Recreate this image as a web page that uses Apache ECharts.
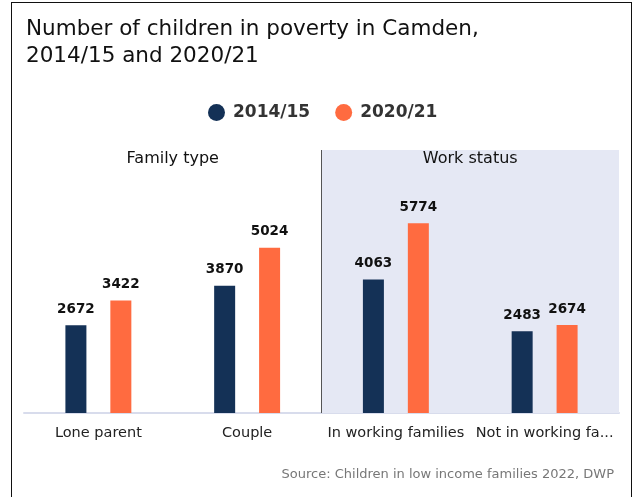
<!DOCTYPE html>
<html><head><meta charset="utf-8">
<script src="https://cdn.jsdelivr.net/npm/echarts@6/dist/echarts.min.js"></script>
<style>html,body{margin:0;padding:0;background:#fff;}#c{width:636px;height:497px;position:relative;}
#frame{position:absolute;left:11px;top:2px;width:619px;height:510px;border:1.5px solid #111;pointer-events:none;}</style>
</head><body><div id="c"></div><div id="frame"></div>
<script>
const categories = ['Lone parent', 'Couple', 'In working families', 'Not in working families'];
const series2014 = [2672, 3870, 4063, 2483];
const series2020 = [3422, 5024, 5774, 2674];
const seriesNames = ['2014/15', '2020/21'];
const sections = [{name: 'Family type', from: 0, to: 2, shaded: false}, {name: 'Work status', from: 2, to: 4, shaded: true}];
const sourceText = 'Source: Children in low income families 2022, DWP';
const font = 'DejaVu Sans';

const chart = echarts.init(document.getElementById('c'), null, {renderer: 'canvas'});
chart.setOption({
  animation: false,
  textStyle: {fontFamily: font},
  title: [{
    text: 'Number of children in poverty in Camden,\n2014/15 and 2020/21',
    left: 21, top: 11,
    textStyle: {fontFamily: font, fontSize: 21.5, fontWeight: 'normal', color: '#111', lineHeight: 27}
  }, {
    text: sourceText, right: 17, top: 463,
    textStyle: {fontFamily: font, fontSize: 13, fontWeight: 'normal', color: '#777'}
  }],
  legend: {
    data: seriesNames, top: 99, left: 203, icon: 'circle', itemWidth: 17, itemHeight: 17, itemGap: 25,
    textStyle: {fontFamily: font, fontSize: 17, fontWeight: 'bold', color: '#333', padding: [0, 0, 0, 3]}
  },
  grid: {left: 24, right: 17, top: 150, bottom: 84, containLabel: false},
  xAxis: [{
    type: 'category', data: categories,
    axisLine: {lineStyle: {color: '#d8dcec', width: 2}}, axisTick: {show: false},
    axisLabel: {interval: 0, fontFamily: font, fontSize: 14.5, color: '#222', margin: 13, width: 150, overflow: 'truncate', ellipsis: '...'}
  }, {
    type: 'value', min: 0, max: 4, show: false
  }],
  yAxis: {type: 'value', min: 0, max: 8000, show: false, splitLine: {show: false}},
  series: [{
    name: seriesNames[0], type: 'bar', data: series2014, barWidth: 21, barGap: '114%', z: 3,
    itemStyle: {color: '#143156'},
    label: {show: true, position: 'top', distance: 9, fontFamily: font, fontSize: 13.5, fontWeight: 'bold', color: '#111'}
  }, {
    name: seriesNames[1], type: 'bar', data: series2020, barWidth: 21, z: 3,
    itemStyle: {color: '#ff6b40'},
    label: {show: true, position: 'top', distance: 9, fontFamily: font, fontSize: 13.5, fontWeight: 'bold', color: '#111'}
  }, {
    type: 'line', xAxisIndex: 1, data: [], silent: true, z: 1,
    markArea: {
      silent: true,
      data: sections.map(s => [{
        xAxis: s.from, name: s.name,
        itemStyle: {color: s.shaded ? '#e5e8f4' : 'rgba(0,0,0,0)'},
        label: {show: true, position: 'insideTop', distance: 1, fontFamily: font, fontSize: 16, color: '#111'}
      }, {xAxis: s.to}])
    },
    markLine: {
      silent: true, symbol: 'none', label: {show: false},
      lineStyle: {color: '#555', width: 1, type: 'solid'},
      data: [{xAxis: sections[1].from}]
    }
  }]
});
</script></body></html>
